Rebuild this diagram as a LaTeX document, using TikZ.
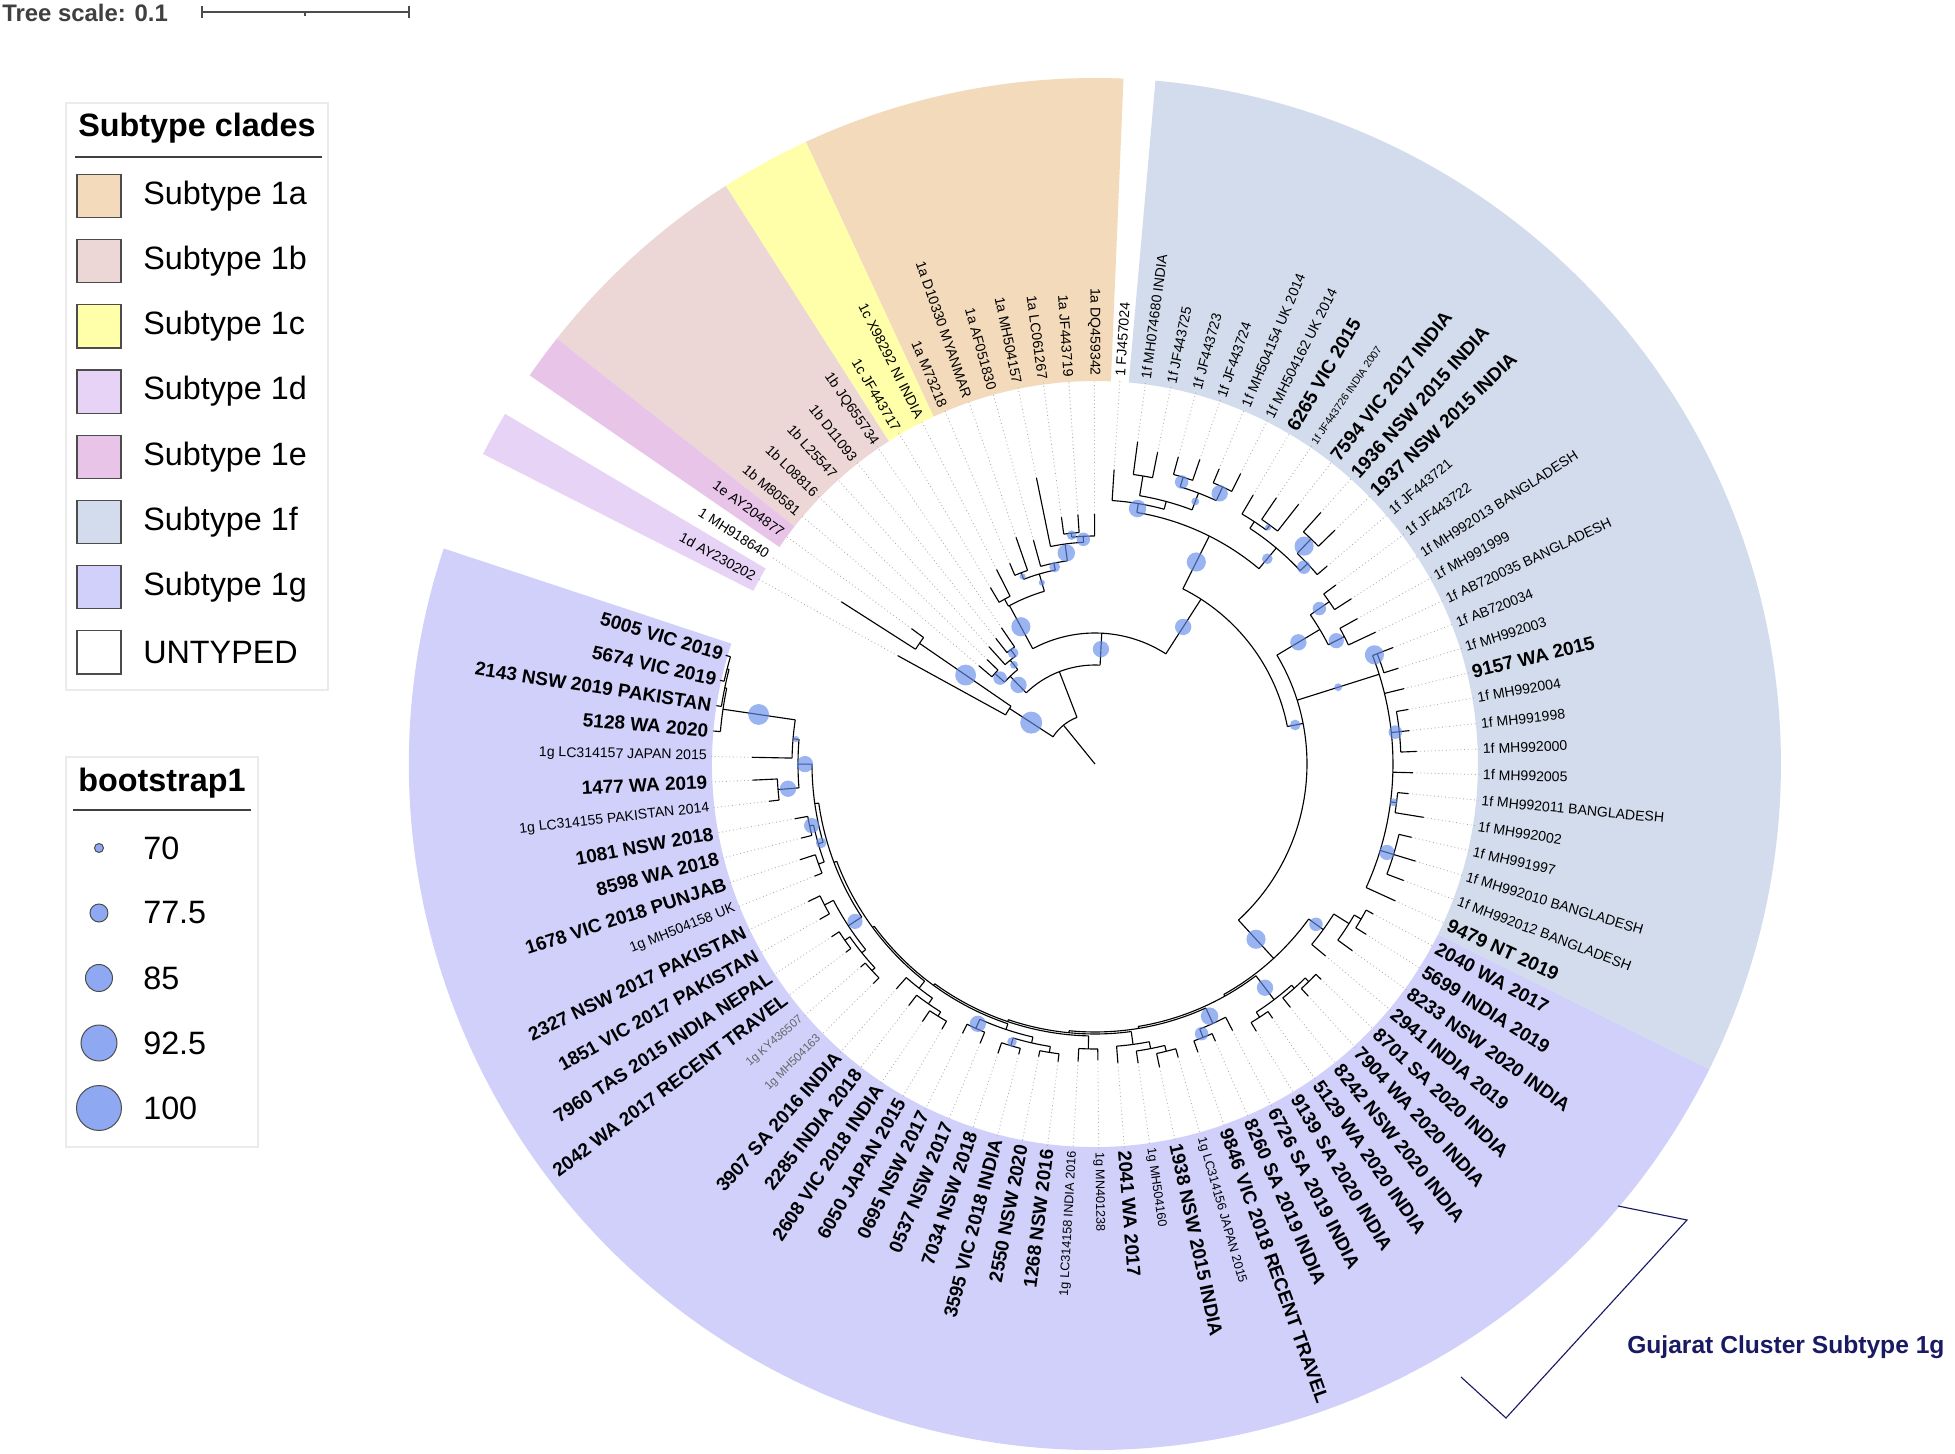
\documentclass[tikz,border=0pt]{standalone}
\usepackage{fontspec}
\setmainfont{Liberation Sans}
\usepackage{tikz}

\definecolor{c1a}{RGB}{243,218,186}
\definecolor{c1b}{RGB}{237,214,214}
\definecolor{c1c}{RGB}{255,255,170}
\definecolor{c1d}{RGB}{230,211,246}
\definecolor{c1e}{RGB}{231,196,232}
\definecolor{c1f}{RGB}{211,220,236}
\definecolor{c1g}{RGB}{209,208,250}
\definecolor{bootblue}{RGB}{100,140,235}
\definecolor{legblue}{RGB}{142,168,242}
\definecolor{gujnavy}{RGB}{25,25,100}

% leaf index -> angle
\pgfmathdeclarefunction{lf}{1}{\pgfmathparse{163.6+3.82*#1}}
\newcommand{\labr}{388}
\newcommand{\bandin}{383}
\newcommand{\bandout}{686}

\tikzset{
  br/.style={line width=0.8pt, black},
  leafdot/.style={gray!65, line width=0.6pt, dotted},
  boot/.style={fill=bootblue, fill opacity=0.65},
  samp/.style={font=\fontsize{13.5}{14}\selectfont\bfseries, inner sep=0pt},
  refs/.style={font=\fontsize{10}{11}\selectfont, inner sep=0pt},
  refsm/.style={font=\fontsize{9}{10}\selectfont, inner sep=0pt},
  reftiny/.style={font=\fontsize{7.5}{8}\selectfont, inner sep=0pt},
  refgr/.style={font=\fontsize{8.3}{9}\selectfont, inner sep=0pt, text=black!60},
  legtext/.style={font=\fontsize{23}{26}\selectfont, inner sep=0pt, anchor=west},
  legtitle/.style={font=\fontsize{23}{26}\selectfont\bfseries, inner sep=0pt},
  legbox/.style={draw=black!70, line width=0.8pt, minimum width=1.1cm, minimum height=1.08cm, inner sep=0pt},
}

\newcommand{\band}[3]{\fill[#1] ({lf(#2)}:\bandin) -- ({lf(#2)}:\bandout)
  arc[start angle={lf(#2)}, end angle={lf(#3)}, radius=\bandout] -- ({lf(#3)}:\bandin)
  arc[start angle={lf(#3)}, end angle={lf(#2)}, radius=\bandin] -- cycle;}

\newcommand{\leaflabel}[3]{%
  \pgfmathsetmacro{\la}{mod(163.6+3.82*#1,360)}%
  \pgfmathtruncatemacro{\lflip}{and(\la>90,\la<270)}%
  \ifnum\lflip=1
    \node[#2, anchor=east, rotate=\la-180] (lab#1) at (\la:\labr) {#3};%
  \else
    \node[#2, anchor=west, rotate=\la] (lab#1) at (\la:\labr) {#3};%
  \fi}

\begin{document}
\begin{tikzpicture}[x=0.025cm,y=0.025cm]
          \fill[white] (-1095,-690) rectangle (860,764);
          \useasboundingbox (-1095,-690) rectangle (860,764);
          %\draw[very thin,lightgray] (-1095,-690) grid[step=100] (860,764);

          % clade ranges
          \band{c1g}{-0.5}{44.5}
          \band{c1f}{44.5}{73.65}
          \band{c1a}{74.35}{81.5}
          \band{c1c}{81.5}{83.5}
          \band{c1b}{83.5}{88.5}
          \band{c1e}{88.5}{89.5}
          \band{c1d}{90.5}{91.5}

          % tips with dotted guides
          \foreach \i/\p/\q in {91/102/225, 89/213/228, 90/213/301,
            84/142/165, 85/142/160, 86/134/158, 87/135/150, 88/135/152,
            82/188/218, 83/188/205, 80/205/240, 81/205/218, 79/205/232, 78/222/292,
            75/228/250, 76/232/250, 77/232/249,
            74/264/295, 72/292/318, 73/292/325, 70/300/322, 71/300/318, 68/305/325,
            69/305/320, 67/290/312, 65/296/330, 66/296/322, 62/292/305, 63/312/335, 64/312/338,
            60/285/305, 61/285/300, 58/280/310, 59/280/300,
            56/303/318, 57/303/320, 55/298/318, 52/306/322, 53/306/316, 54/306/318,
            51/298/318, 49/304/333, 50/304/315, 46/312/330, 47/312/335, 48/312/325, 45/298/330,
            36/302/312, 37/302/310, 38/300/312, 39/305/315, 40/305/312,
            41/282/300, 42/300/318, 43/308/320, 44/308/316,
            35/285/300, 33/294/306, 34/294/302,
            29/283/300, 30/290/302, 31/296/310, 32/296/305, 27/285/298, 28/285/296,
            21/290/300, 22/290/302, 23/294/305, 24/294/300, 25/292/298, 26/292/300,
            17/285/300, 18/292/305, 19/297/310, 20/297/306,
            11/305/318, 12/305/316, 13/306/315, 14/306/312, 15/304/310, 16/304/312,
            7/292/305, 8/292/303, 9/294/310, 10/294/302,
            4/303/343, 3/376/383, 2/378/383, 0/380/385, 1/380/384, 5/318/343, 6/318/328}
          {
            \draw[leafdot] ({lf(\i)}:\q) -- ({lf(\i)}:385);
            \draw[br] ({lf(\i)}:\p) -- ({lf(\i)}:\q);
          }

          % inner branches
          \foreach \i/\p/\q in {85.2/0/50, 89.9/50/102, 89.5/102/213,
            80.5/50/99, 86.5/99/122, 85.25/122/134, 84.5/134/142, 87.5/122/135,
            74.2/99/131, 82.4/131/180, 82.5/180/188, 79.25/180/198, 80.5/198/205,
            78.0/198/205, 77.0/205/222, 75.75/222/228, 76.5/228/232,
            66.4/131/196, 68.0/196/255, 72.5/255/264, 71.0/264/272, 72.5/272/292,
            69.5/272/290, 70.5/290/300, 68.5/290/305, 64.5/255/282, 66.25/282/290,
            65.5/290/296, 62.75/282/292, 63.5/292/312,
            54.3/196/212, 59.5/212/262, 60.5/262/285, 58.5/262/280, 56.0/212/298,
            57.0/298/303, 53.0/298/306, 49.5/298/304, 47.0/298/312,
            39.0/212/264, 35.5/264/266, 37.6/266/296, 36.5/296/302, 38.75/296/300,
            39.5/300/305, 42.0/264/282, 43.0/282/300, 43.5/300/308,
            30.3/266/268, 34.25/268/285, 33.5/285/294, 26.4/268/270, 29.875/270/283,
            30.75/283/290, 31.5/290/296, 22.95/270/272, 27.5/272/285, 18.4/272/274,
            23.0/274/280, 21.5/280/290, 24.5/280/286, 23.5/286/294, 25.5/286/292,
            13.8/274/276, 17.875/276/285, 18.75/285/292, 19.5/292/297, 9.7/276/279,
            13.0/279/295, 11.5/295/305, 14.5/295/300, 13.5/300/306, 15.5/300/304,
            6.4/279/283, 8.5/283/288, 7.5/288/292, 9.5/288/294, 4.3/283/297,
            3.05/297/303, 2.1/303/376, 1.25/376/378, 0.5/378/380, 5.5/297/318}
            \draw[br] ({lf(\i)}:\p) -- ({lf(\i)}:\q);

          \foreach \rr/\p/\q in {50/80.5/89.9, 102/89.5/91, 213/89/90,
            99/74.2/86.5, 122/85.25/87.5, 134/84.5/86, 142/84/85, 135/87/88,
            131/66.4/82.4, 180/79.25/82.5, 188/82/83, 198/78.0/80.5, 205/80/81,
            205/77/79, 222/75.75/78, 228/75/76.5, 232/76/77,
            196/54.3/68.0, 255/64.5/72.5, 264/71.0/74, 272/69.5/72.5, 292/72/73,
            290/68.5/70.5, 300/70/71, 305/68/69, 282/62.75/66.25, 290/65.5/67,
            296/65/66, 292/62/63.5, 312/63/64,
            212/39.0/59.5, 262/58.5/60.5, 285/60/61, 280/58/59, 298/45/57,
            303/56/57, 306/52/54, 304/49/50, 312/46/48,
            264/35.5/42, 266/30.3/37.6, 296/36.5/38.75, 302/36/37, 300/38/39.5,
            305/39/40, 282/41/43, 300/42/43.5, 308/43/44,
            268/26.4/34.25, 285/33.5/35, 294/33/34, 270/22.95/29.875, 283/29/30.75,
            290/30/31.5, 296/31/32, 272/18.4/27.5, 285/27/28, 274/13.8/23,
            280/21.5/24.5, 290/21/22, 286/23.5/25.5, 294/23/24, 292/25/26,
            276/9.7/17.875, 285/17/18.75, 292/18/19.5, 297/19/20, 279/6.4/13,
            295/11.5/14.5, 305/11/12, 300/13.5/15.5, 306/13/14, 304/15/16,
            283/4.3/8.5, 288/7.5/9.5, 292/7/8, 294/9/10, 297/3.05/5.5, 303/2.1/4,
            376/1.25/3, 378/0.5/2, 380/0/1, 318/5/6}
            \draw[br] ({lf(\p)}:\rr) arc[start angle={lf(\p)}, end angle={lf(\q)}, radius=\rr];

          % bootstrap symbols
          \foreach \i/\rr/\bs in {89.9/76/100, 89.5/157/98, 86.5/110/90, 85.25/128/75,
            84.5/138/80, 87.5/128/85, 74.2/115/90, 82.4/156/95, 79.25/189/72,
            80.5/201/72, 78.0/201/80, 77.0/213/92, 75.75/225/85, 76.5/230/78,
            66.4/163/90, 68.0/226/95, 72.5/259/92, 69.5/281/75, 70.5/295/85,
            68.5/298/90, 64.5/268/80, 63.5/302/95, 62.75/287/85, 65.5/293/72,
            54.3/204/80, 59.5/237/90, 60.5/273/85, 58.5/271/88, 56.0/255/75,
            57.0/300/95, 53.0/302/85, 47.0/305/88, 49.5/301/75,
            39.0/238/95, 42.0/273/85, 37.6/281/90, 34.25/277/92, 33.5/290/85,
            21.5/285/90, 23.5/290/78, 13.0/287/88, 7.5/290/88, 8.5/285/80,
            4.3/290/90, 3.05/300/72, 2.1/340/98, 5.5/308/90}
            \fill[boot] ({lf(\i)}:\rr) circle ({2.5+(\bs-70)*0.2833});

          % leaf labels
          \foreach \i/\tx in {0/5005 VIC 2019, 1/5674 VIC 2019, 2/2143 NSW 2019 PAKISTAN,
            3/5128 WA 2020, 5/1477 WA 2019, 7/1081 NSW 2018, 8/8598 WA 2018,
            9/1678 VIC 2018 PUNJAB, 11/2327 NSW 2017 PAKISTAN, 12/1851 VIC 2017 PAKISTAN,
            13/7960 TAS 2015 INDIA NEPAL, 14/2042 WA 2017 RECENT TRAVEL, 17/3907 SA 2016 INDIA,
            18/2285 INDIA 2018, 19/2608 VIC 2018 INDIA, 20/6050 JAPAN 2015, 21/0695 NSW 2017,
            22/0537 NSW 2017, 23/7034 NSW 2018, 24/3595 VIC 2018 INDIA, 25/2550 NSW 2020,
            26/1268 NSW 2016, 29/2041 WA 2017, 31/1938 NSW 2015 INDIA,
            33/9846 VIC 2018 RECENT TRAVEL, 34/8260 SA 2019 INDIA, 35/6726 SA 2019 INDIA,
            36/9139 SA 2020 INDIA, 37/5129 WA 2020 INDIA, 38/8242 NSW 2020 INDIA,
            39/7904 WA 2020 INDIA, 40/8701 SA 2020 INDIA, 41/2941 INDIA 2019,
            42/8233 NSW 2020 INDIA, 43/5699 INDIA 2019, 44/2040 WA 2017, 45/9479 NT 2019,
            55/9157 WA 2015, 63/1937 NSW 2015 INDIA, 64/1936 NSW 2015 INDIA,
            65/7594 VIC 2017 INDIA, 67/6265 VIC 2015}
            {\leaflabel{\i}{samp}{\tx}}
          \foreach \i/\tx in {4/1g LC314157 JAPAN 2015, 6/1g LC314155 PAKISTAN 2014,
            10/1g MH504158 UK, 46/1f MH992012 BANGLADESH, 47/1f MH992010 BANGLADESH,
            48/1f MH991997, 49/1f MH992002, 50/1f MH992011 BANGLADESH, 51/1f MH992005,
            52/1f MH992000, 53/1f MH991998, 54/1f MH992004, 56/1f MH992003,
            57/1f AB720034, 58/1f AB720035 BANGLADESH, 59/1f MH991999,
            60/1f MH992013 BANGLADESH, 61/1f JF443722, 62/1f JF443721,
            68/1f MH504162 UK 2014, 69/1f MH504154 UK 2014, 70/1f JF443724,
            71/1f JF443723, 72/1f JF443725, 73/1f MH074680 INDIA, 74/1 FJ457024,
            75/1a DQ459342, 76/1a JF443719, 77/1a LC061267, 78/1a MH504157,
            79/1a AF051830, 80/1a D10330 MYANMAR, 81/1a M73218, 82/1c X98292 NI INDIA,
            83/1c JF443717, 84/1b JQ655734, 85/1b D11093, 86/1b L25547, 87/1b L08816,
            88/1b M80581, 89/1e AY204877, 90/1 MH918640, 91/1d AY230202}
            {\leaflabel{\i}{refs}{\tx}}
          \foreach \i/\tx in {27/1g LC314158 INDIA 2016, 28/1g MN401238,
            30/1g MH504160, 32/1g LC314156 JAPAN 2015}
            {\leaflabel{\i}{refsm}{\tx}}
          \leaflabel{66}{reftiny}{1f JF443726 INDIA 2007}
          \leaflabel{15}{refgr}{1g KY436507}
          \leaflabel{16}{refgr}{1g MH504163}

          % tree scale
          \node[font=\fontsize{17}{18}\selectfont\bfseries, text=black!75, inner sep=0pt, anchor=west] (scaletxt) at (-1093,751) {Tree scale: 0.1};
          \draw[black!70, line width=0.8pt] (-893,752) -- (-686,752);
          \draw[black!70, line width=0.8pt] (-893,746) -- (-893,758) (-686,746) -- (-686,758) (-790,752) -- (-790,748);

          % legend: clades
          \draw[black!8, line width=0.8pt] (-1029,661) rectangle (-767,74);
          \node[legtitle] (cladetitle) at (-898,636) {Subtype clades};
          \draw[black!75, line width=0.8pt] (-1020,607) -- (-773,607);
          \foreach \c/\t [count=\k from 0] in {c1a/Subtype 1a, c1b/Subtype 1b, c1c/Subtype 1c,
            c1d/Subtype 1d, c1e/Subtype 1e, c1f/Subtype 1f, c1g/Subtype 1g, white/UNTYPED}
          {
            \node[legbox, fill=\c] (key\k) at (-996,568-65.2*\k) {};
            \node[legtext] (keytxt\k) at (-952,568-65.2*\k) {\t};
          }

          % legend: bootstrap
          \draw[black!8, line width=0.8pt] (-1029,7) rectangle (-837,-383);
          \node[legtitle] (boottitle) at (-933,-19) {bootstrap1};
          \draw[black!75, line width=0.8pt] (-1022,-46) -- (-844,-46);
          \foreach \v/\rad [count=\k from 0] in {70/4.5, 77.5/9, 85/13.5, 92.5/18, 100/22.5}
          {
            \draw[fill=legblue, draw=black!70, line width=0.7pt] (-996,-84-65*\k) circle (\rad);
            \node[legtext] (boottxt\k) at (-952,-84-65*\k) {\v};
          }

          % Gujarat cluster
          \draw[gujnavy, line width=0.8pt] (523,-442) -- (592,-456) -- (411,-654) -- (366,-613);
          \node[font=\fontsize{17.5}{19}\selectfont\bfseries, text=gujnavy, inner sep=0pt, anchor=west] (gujarat) at (532,-583) {Gujarat Cluster Subtype 1g};
        \end{tikzpicture}
\end{document}
